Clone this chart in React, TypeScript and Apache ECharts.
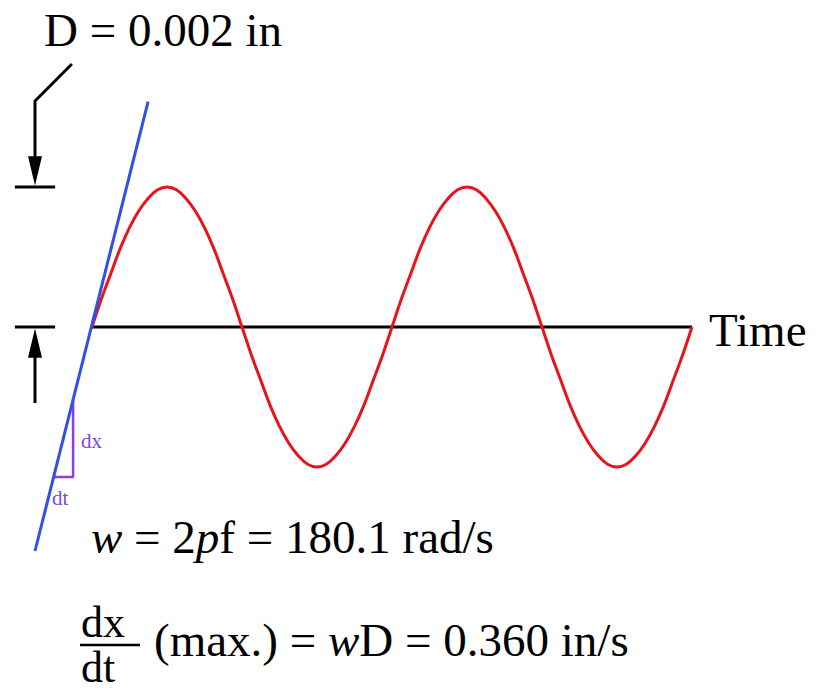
import React, { useEffect, useRef } from "react";
import * as echarts from "echarts";

// Displacement (in units of D) sampled 32 times per cycle, two cycles
const displacement = [
  0, 0.2, 0.38, 0.56, 0.71, 0.83, 0.92, 0.98, 1, 0.98, 0.92, 0.83, 0.71, 0.56, 0.38, 0.2,
  0, -0.2, -0.38, -0.56, -0.71, -0.83, -0.92, -0.98, -1, -0.98, -0.92, -0.83, -0.71, -0.56, -0.38, -0.2,
  0, 0.2, 0.38, 0.56, 0.71, 0.83, 0.92, 0.98, 1, 0.98, 0.92, 0.83, 0.71, 0.56, 0.38, 0.2,
  0, -0.2, -0.38, -0.56, -0.71, -0.83, -0.92, -0.98, -1, -0.98, -0.92, -0.83, -0.71, -0.56, -0.38, -0.2,
  0,
];
const samplesPerCycle = 32;
const cycles = 2;

// Tangent line at the origin (time in cycles, displacement in D)
const tangentStart = [-0.19, -1.6];
const tangentEnd = [0.187, 1.61];

// dx / dt triangle on the tangent
const slopeTriangle = [
  [-0.127, -1.071],
  [-0.063, -1.071],
  [-0.063, -0.521],
];

// Dimension marks
const dimTickX = [-0.257, -0.123];
const dimLevels = [1, 0];
const leader = [
  [-0.067, 1.879],
  [-0.19, 1.614],
  [-0.19, 1.2],
];
const upShaft = [
  [-0.19, -0.2],
  [-0.19, -0.543],
];
// arrowheads: [x, tip y, base y]
const arrowHeads = [
  [-0.19, 1.01, 1.22],
  [-0.19, -0.01, -0.22],
];

const labelD = "D = 0.002 in";
const labelTime = "Time";
const labelOmega = "{i|w} = 2{i|p}f = 180.1 rad/s";
const labelRate = "(max.) = {i|w}D = 0.360 in/s";

const RED = "#e8141c";
const BLUE = "#3050e6";
const PURPLE = "#8a3cf0";
const PURPLE_TEXT = "#8048d8";
const FONT = "'Liberation Serif', 'Times New Roman', serif";

function seg(data: number[][], color: string, width: number, z = 2) {
  return {
    type: "line",
    data,
    symbol: "none",
    showSymbol: false,
    silent: true,
    animation: false,
    lineStyle: { color, width },
    z,
  };
}

export default function App() {
  const ref = useRef<HTMLDivElement>(null);
  useEffect(() => {
    if (!ref.current) return;
    const chart = echarts.init(ref.current, undefined, { renderer: "svg" });
    const sine = displacement.map((v, i) => [i / samplesPerCycle, v]);
    const rich = (size: number, color: string, lh?: number) => ({
      i: { fontStyle: "italic", fontSize: size, fontFamily: FONT, fill: color, lineHeight: lh },
    });
    const textEl = (text: string, x: number, y: number, size: number, color = "#000", lh?: number) => ({
      type: "text",
      x,
      y,
      silent: true,
      style: {
        text,
        fontSize: size,
        fontFamily: FONT,
        fill: color,
        align: "left",
        verticalAlign: "middle",
        lineHeight: lh,
        rich: rich(size, color, lh),
      },
    });
    chart.setOption({
      animation: false,
      backgroundColor: "#ffffff",
      grid: { left: 0, right: 0, top: 0, bottom: 0 },
      xAxis: { type: "value", min: -92 / 300, max: 737 / 300, show: false },
      yAxis: { type: "value", min: -373 / 140, max: 327 / 140, show: false },
      series: [
        seg([[0, 0], [cycles, 0]], "#000", 3, 2),
        { ...seg(sine, RED, 3, 3), smooth: 0.4 },
        seg([tangentStart, tangentEnd], BLUE, 3, 4),
        seg(slopeTriangle, PURPLE, 2.5, 3),
        ...dimLevels.map((l) => seg([[dimTickX[0], l], [dimTickX[1], l]], "#000", 3)),
        seg(leader, "#000", 3),
        seg(upShaft, "#000", 3),
        {
          type: "custom",
          silent: true,
          clip: false,
          data: arrowHeads,
          renderItem: (_p: any, api: any) => {
            const tip = api.coord([api.value(0), api.value(1)]);
            const base = api.coord([api.value(0), api.value(2)]);
            return {
              type: "polygon",
              shape: { points: [tip, [base[0] - 7, base[1]], [base[0] + 7, base[1]]] },
              style: { fill: "#000" },
            };
          },
        },
      ],
      graphic: [
        textEl(labelD, 44, 30, 47),
        textEl(labelTime, 709, 330, 47),
        textEl(labelOmega, 91, 537, 47),
        textEl("dx", 81, 622, 44, "#000", 30),
        textEl("dt", 81, 667, 44, "#000", 30),
        {
          type: "line",
          silent: true,
          shape: { x1: 80, y1: 645, x2: 140, y2: 645 },
          style: { stroke: "#000", lineWidth: 2.5 },
        },
        textEl(labelRate, 154, 640, 47),
        textEl("dx", 81, 441, 21, PURPLE_TEXT),
        textEl("dt", 52, 498, 21, PURPLE_TEXT),
      ],
    });
    return () => chart.dispose();
  }, []);
  return (
    <div
      ref={ref}
      style={{ position: "fixed", left: 0, top: 0, width: 829, height: 700, background: "#fff" }}
    />
  );
}
